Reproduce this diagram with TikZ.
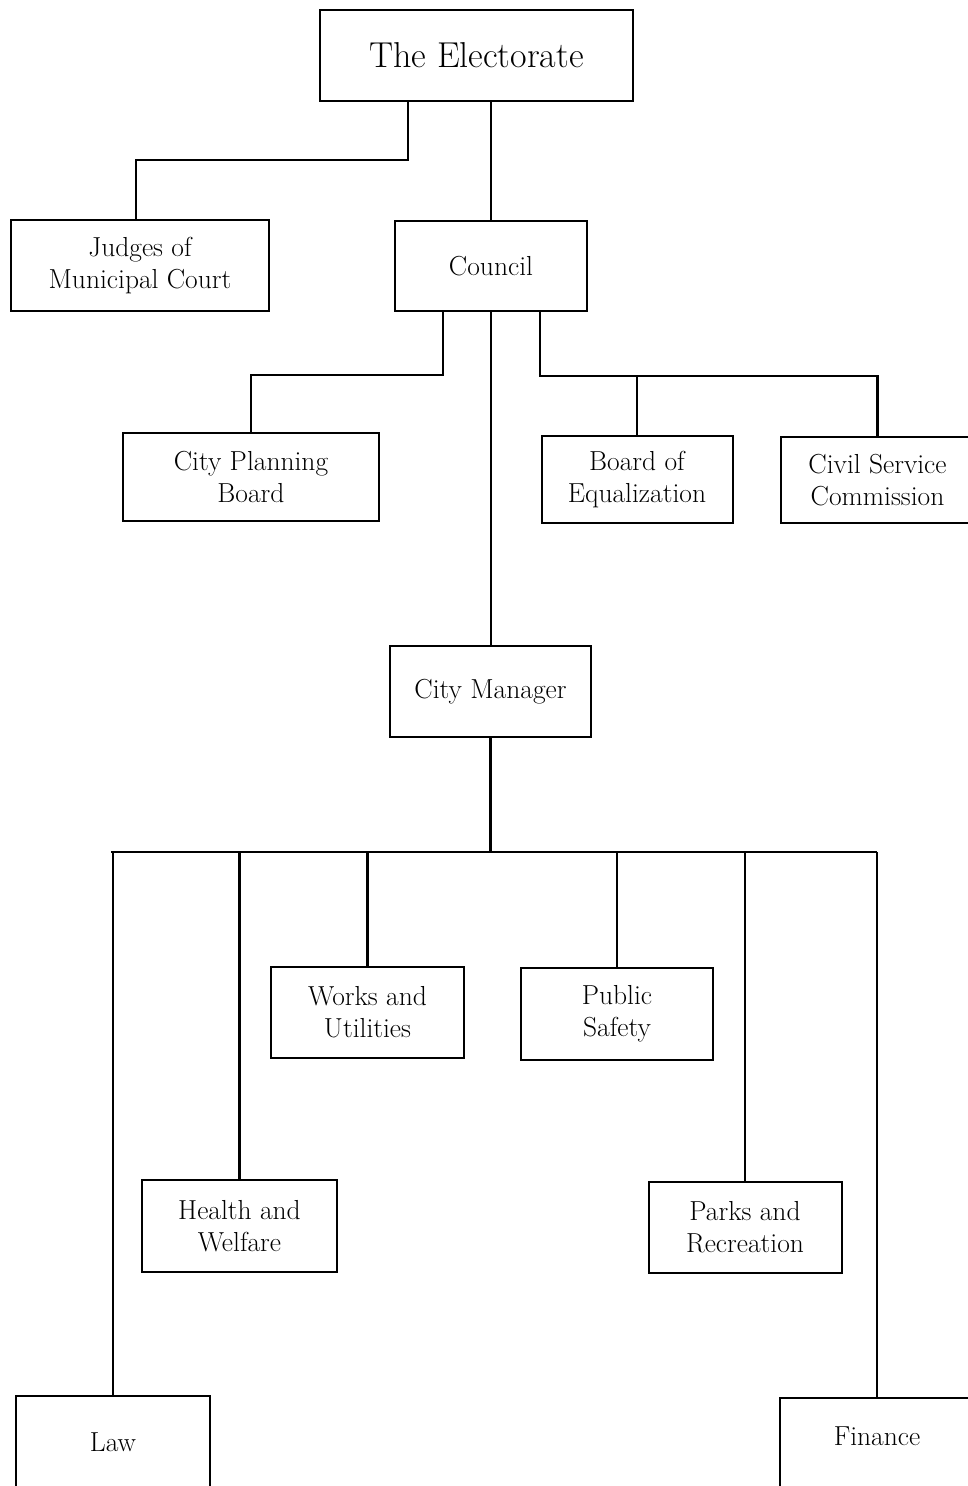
\documentclass[tikz,border=0pt]{standalone}
\usetikzlibrary{calc}
\begin{document}
\begin{tikzpicture}[x=1pt,y=-1pt,
  box/.style={draw, line width=2pt, inner sep=0pt, align=center,
    font=\fontsize{27.5}{32}\selectfont},
  conn/.style={line width=2.8pt}]
\useasboundingbox (0,0) rectangle (968,1486);
\clip (0,0) rectangle (968,1486);
\fill[white] (0,0) rectangle (968,1486);
% nodes
\node[box, minimum width=313pt, minimum height=91pt, font=\fontsize{36}{40}\selectfont] (elect) at (476.5,55.5) {The Electorate};
\node[box, minimum width=258pt, minimum height=91pt] (judges) at (140,265.5) {Judges of\\Municipal Court};
\node[box, minimum width=192pt, minimum height=90pt] (council) at (491,266) {Council};
\node[box, minimum width=256pt, minimum height=88pt] (cpb) at (251,477) {City Planning\\Board};
\node[box, minimum width=191pt, minimum height=87pt] (boe) at (637,479.5) {Board of\\Equalization};
\node[box, minimum width=193pt, minimum height=86pt] (csc) at (877.5,480) {Civil Service\\Commission};
\node[box, minimum width=201pt, minimum height=91pt] (cm) at (490.5,691.5) {City Manager};
\node[box, minimum width=193pt, minimum height=91pt] (works) at (367.5,1012.5) {Works and\\Utilities};
\node[box, minimum width=192pt, minimum height=92pt] (safety) at (617,1014) {Public\\Safety};
\node[box, minimum width=195pt, minimum height=92pt] (health) at (239.5,1226) {Health and\\Welfare};
\node[box, minimum width=193pt, minimum height=91pt] (parks) at (745,1227.5) {Parks and\\Recreation};
\node[box, minimum width=194pt, minimum height=92pt] (law) at (113,1442) {Law};
\node[box, minimum width=194pt, minimum height=92pt, text depth=16pt] (finance) at (877,1444) {Finance};
% connectors
\draw[conn] ([xshift=-68.5pt]elect.south) -- ++(0,58) -| ([xshift=-4pt]judges.north);
\draw[conn] (council.north |- elect.south) -- (council.north);
\draw[conn] ([xshift=-48pt]council.south) -- ++(0,63) -| (cpb.north);
\draw[conn] (council.south) -- (council.south |- cm.north);
\coordinate (rbar) at (637,375);
\draw[conn] ([xshift=49pt]council.south) -- ++(0,64) -| (csc.north);
\draw[conn] (rbar) -- (boe.north);
\coordinate (barL) at (111,852);
\coordinate (barR) at (877,852);
\draw[conn] (cm.south) -- (cm.south |- barL);
\draw[conn] (barL) -- (barR);
\draw[conn] (law.north |- barL) -- (law.north);
\draw[conn] (health.north |- barL) -- (health.north);
\draw[conn] (works.north |- barL) -- (works.north);
\draw[conn] (safety.north |- barL) -- (safety.north);
\draw[conn] (parks.north |- barL) -- (parks.north);
\draw[conn] (finance.north |- barL) -- (finance.north);
\end{tikzpicture}
\end{document}
